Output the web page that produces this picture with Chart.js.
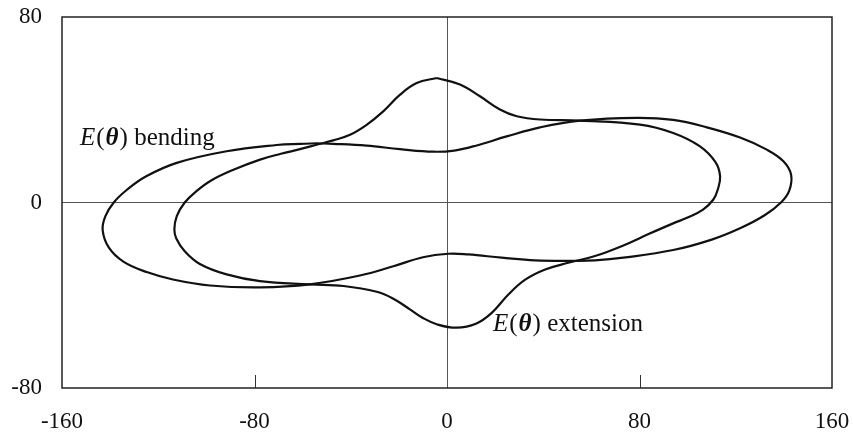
<!DOCTYPE html>
<html>
<head>
<meta charset="utf-8">
<script src="https://cdn.jsdelivr.net/npm/chart.js@4.4.1/dist/chart.umd.min.js"></script>
<style>
  html, body { margin: 0; padding: 0; background: #ffffff; }
  #wrap { position: relative; width: 853px; height: 436px; }
</style>
</head>
<body>
<div id="wrap"><canvas id="c" width="853" height="436"></canvas></div>
<script>
// Tick values
const xTicks = [-160, -80, 0, 80, 160];
const yTicks = [-80, 0, 80];

// E(theta) bending (outer curve)
const bendX = [-54, -47.3, -33.4, -19.5, -5.7, 3, 12, 24.8, 38.7, 55.3, 78.8, 94, 108, 121.8, 132.9, 139.8, 143, 142.2, 138.8, 132, 122, 110, 94, 73.3, 61.5, 53.2, 36.6, 22.7, 8.8, 0.5, -10, -22.3, -36.2, -57, -77.7, -98.5, -113.9, -124.8, -134.5, -140.5, -143.1, -142, -138.5, -133, -125, -112.3, -91.6, -70.8, -61, -54];
const bendY = [25.5, 25.3, 24.5, 23, 21.9, 22.4, 24.5, 28.5, 32.4, 35.3, 36.5, 35.6, 32.4, 28, 22.8, 17.8, 12, 5, 0, -5.5, -11, -16, -20.5, -23.8, -25, -25.2, -25, -23.8, -22.4, -22.1, -23.6, -27.5, -31.5, -35.3, -36.6, -35.8, -33.2, -30, -25.5, -19.5, -12, -6, 0, 5.5, 11.3, 17.1, 22.1, 24.8, 25.3, 25.5];

// E(theta) extension (inner curve with lobes)
const extX = [-4.3, 5.4, 13.7, 22, 29, 38.7, 55.3, 80.2, 94, 105, 111.5, 113.5, 112.5, 110.7, 106.4, 100, 94, 84, 73.3, 61.5, 50.4, 40.8, 32.5, 25.5, 18.6, 12, 4, -4, -10, -15.4, -22.3, -29.2, -43, -57, -77.7, -91.6, -102.7, -109, -112.5, -113.3, -112.3, -109, -104, -98, -89, -77.7, -69, -61.1, -54.2, -47.3, -40.3, -33.4, -26.5, -19.5, -12.6, -4.3];
const extY = [53.7, 50.9, 45.8, 40.1, 37.2, 35.8, 35.3, 33.6, 30, 24.3, 17.5, 11.3, 5.5, 1.3, -3.1, -6.5, -9, -13.5, -18.5, -23.1, -26, -28.9, -33.3, -39.7, -47.6, -52.3, -54, -52.6, -49.8, -46.1, -41.5, -38.5, -36, -35.3, -33.9, -31, -26.5, -21, -15.5, -11.6, -5.9, 0, 5, 9.5, 14, 18.5, 21, 23, 24.9, 26.8, 29.2, 33.5, 39.3, 46.5, 51.5, 53.7];

const toPts = (xs, ys) => xs.map((x, i) => ({ x: x, y: ys[i] }));

const FONT = '"Liberation Serif", "Times New Roman", serif';

const framePlugin = {
  id: 'frame',
  afterDraw(chart) {
    const { ctx, chartArea: a, scales } = chart;
    ctx.save();
    // inward tick marks on bottom axis
    ctx.strokeStyle = '#333';
    ctx.lineWidth = 1;
    xTicks.forEach(v => {
      if (v === xTicks[0] || v === xTicks[xTicks.length - 1] || v === 0) return;
      const px = Math.round(scales.x.getPixelForValue(v)) + 0.5;
      ctx.beginPath();
      ctx.moveTo(px, a.bottom);
      ctx.lineTo(px, a.bottom - 13);
      ctx.stroke();
    });
    // plot area frame
    ctx.strokeStyle = '#222';
    ctx.lineWidth = 1.5;
    ctx.strokeRect(a.left, a.top, a.right - a.left, a.bottom - a.top);

    // curve labels
    function drawLabel(parts, x, y) {
      let cx = x;
      parts.forEach(p => {
        ctx.font = p.f + ' 25px ' + FONT;
        ctx.fillStyle = '#111';
        ctx.textBaseline = 'alphabetic';
        ctx.textAlign = 'left';
        ctx.fillText(p.t, cx, y);
        cx += ctx.measureText(p.t).width + (p.gap || 0);
      });
    }
    const lab = (word) => [
      { t: 'E', f: 'italic', gap: 1 },
      { t: '(', f: 'normal', gap: 1 },
      { t: 'θ', f: 'italic bold', gap: 1 },
      { t: ')', f: 'normal' },
      { t: ' ' + word, f: 'normal' }
    ];
    drawLabel(lab('bending'), a.left + 18, 145);
    drawLabel(lab('extension'), a.left + 431, 331);
    ctx.restore();
  }
};

new Chart(document.getElementById('c'), {
  type: 'scatter',
  data: {
    datasets: [
      {
        label: 'E(θ) bending',
        data: toPts(bendX, bendY),
        showLine: true,
        borderColor: '#111',
        borderWidth: 2.2,
        pointRadius: 0,
        tension: 0.4,
        fill: false
      },
      {
        label: 'E(θ) extension',
        data: toPts(extX, extY),
        showLine: true,
        borderColor: '#111',
        borderWidth: 2.2,
        pointRadius: 0,
        tension: 0.4,
        fill: false
      }
    ]
  },
  options: {
    responsive: false,
    animation: false,
    events: [],
    layout: { padding: { left: 0, top: 17, right: 21, bottom: 0 } },
    plugins: { legend: { display: false }, tooltip: { enabled: false } },
    scales: {
      x: {
        type: 'linear',
        min: -160, max: 160,
        afterBuildTicks: s => { s.ticks = xTicks.map(v => ({ value: v })); },
        afterFit: s => { s.height = 48; s.paddingLeft = 0; s.paddingRight = 0; },
        border: { display: false },
        grid: {
          drawTicks: false,
          color: c => (c.tick && c.tick.value === 0 ? '#555' : 'rgba(0,0,0,0)'),
          lineWidth: 1
        },
        ticks: { padding: 20, color: '#111', font: { family: FONT, size: 23 }, maxRotation: 0 }
      },
      y: {
        type: 'linear',
        min: -80, max: 80,
        afterBuildTicks: s => { s.ticks = yTicks.map(v => ({ value: v })); },
        afterFit: s => { s.width = 62; s.paddingTop = 0; s.paddingBottom = 0; },
        border: { display: false },
        grid: {
          drawTicks: false,
          color: c => (c.tick && c.tick.value === 0 ? '#555' : 'rgba(0,0,0,0)'),
          lineWidth: 1
        },
        ticks: { padding: 20, color: '#111', font: { family: FONT, size: 23 } }
      }
    }
  },
  plugins: [framePlugin]
});
</script>
</body>
</html>
